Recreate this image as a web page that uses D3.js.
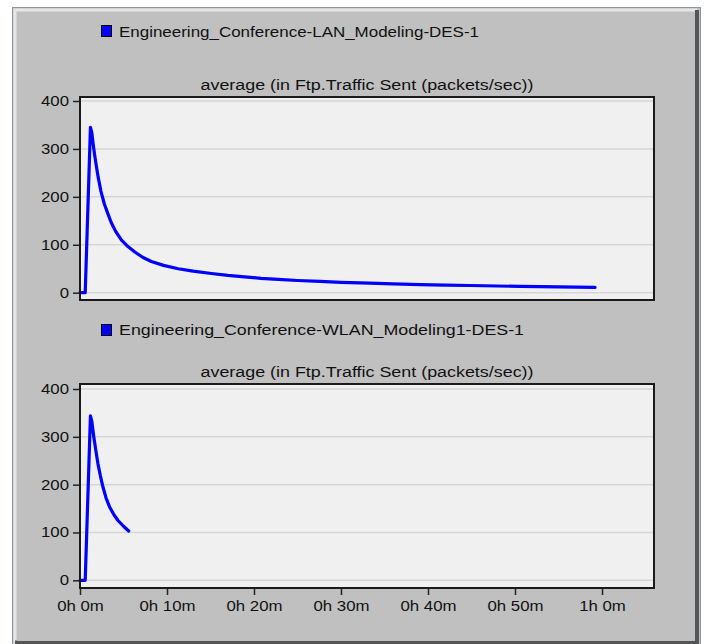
<!DOCTYPE html>
<html>
<head>
<meta charset="utf-8">
<script src="https://cdn.jsdelivr.net/npm/d3@7"></script>
<style>
  html, body { margin: 0; padding: 0; background: #ffffff; }
  svg { display: block; font-family: "Liberation Sans", Arial, sans-serif; }
</style>
</head>
<body>
<svg id="chart" width="707" height="644"></svg>
<script>
// ---- data (time in minutes, value in packets/sec) ----
const seriesNames = [
  "Engineering_Conference-LAN_Modeling-DES-1",
  "Engineering_Conference-WLAN_Modeling1-DES-1"
];
const panelTitle = "average (in Ftp.Traffic Sent (packets/sec))";
const lanTime  = [0, 0.6, 1.2, 1.35, 1.5, 1.7, 1.9, 2.1, 2.4, 2.8, 3.2, 3.6, 4.1, 4.75, 5.4, 6.3, 7.2, 8.2, 9.6, 11.3, 13, 15.1, 17, 18.9, 20.8, 22.8, 25, 27.6, 30, 33.3, 36, 39.1, 42, 44.8, 48, 50.6, 55, 59.2];
const lanValue = [0, 0, 345, 335, 312, 285, 262, 240, 212, 185, 165, 146, 128, 110, 98, 85, 74, 65, 57, 50, 45, 40, 36, 33, 30, 28, 25.5, 23.5, 21.5, 20, 18.5, 17, 16, 15, 14, 13, 12, 11];
const wlanTime  = [0, 0.6, 1.2, 1.35, 1.6, 1.85, 2.07, 2.35, 2.64, 3.0, 3.41, 3.9, 4.37, 5.0, 5.6];
const wlanValue = [0, 0, 344, 333, 298, 268, 243, 218, 195, 172, 153, 137, 125, 113, 103];
const yTicks = [0, 100, 200, 300, 400];
const xTicks = [0, 10, 20, 30, 40, 50, 60];
const xTickLabels = ["0h 0m", "0h 10m", "0h 20m", "0h 30m", "0h 40m", "0h 50m", "1h 0m"];

const svg = d3.select("#chart");

// ---- window frame ----
svg.append("rect").attr("x", 12.5).attr("y", 7.5).attr("width", 688).attr("height", 640)
  .attr("fill", "#c0c0c0").attr("stroke", "#8e96a0").attr("stroke-width", 1);
svg.append("path").attr("d", "M15,646 L15,10 L697,10").attr("fill", "none")
  .attr("stroke", "#e6e6e6").attr("stroke-width", 3);
svg.append("path").attr("d", "M697,10 L697,642.5 L15,642.5").attr("fill", "none")
  .attr("stroke", "#555555").attr("stroke-width", 4);
svg.append("rect").attr("x", 17).attr("y", 12).attr("width", 678).attr("height", 629)
  .attr("fill", "#c0c0c0");

const x = d3.scaleLinear().domain([0, 60]).range([80, 602]);

const panels = [
  { name: seriesNames[0], t: lanTime, v: lanValue, top: 97, bottom: 300, y0: 292.7, y400: 101,
    legendY: 25, textY: 36.5, titleY: 89.5, showX: false },
  { name: seriesNames[1], t: wlanTime, v: wlanValue, top: 384, bottom: 588, y0: 580.3, y400: 389,
    legendY: 324, textY: 335, titleY: 376.5, showX: true }
];
const legendWidths = [360, 405];

panels.forEach((p, i) => {
  const g = svg.append("g");
  const y = d3.scaleLinear().domain([0, 400]).range([p.y0, p.y400]);
  const left = 80, right = 654;

  // legend
  g.append("rect").attr("x", 101.5).attr("y", p.legendY + 0.5).attr("width", 10).attr("height", 11)
    .attr("fill", "#0000ff").attr("stroke", "#000").attr("stroke-width", 1);
  g.append("text").attr("x", 119).attr("y", p.textY).attr("font-size", 14).attr("fill", "#111")
    .attr("textLength", legendWidths[i]).attr("lengthAdjust", "spacingAndGlyphs").text(p.name);

  // title
  g.append("text").attr("x", (left + right) / 2).attr("y", p.titleY).attr("text-anchor", "middle")
    .attr("font-size", 14).attr("fill", "#111")
    .attr("textLength", 333).attr("lengthAdjust", "spacingAndGlyphs").text(panelTitle);

  // plot background
  g.append("rect").attr("x", left).attr("y", p.top).attr("width", right - left).attr("height", p.bottom - p.top)
    .attr("fill", "#f0f0f0");

  // gridlines
  g.append("g").selectAll("line").data(yTicks).join("line")
    .attr("x1", left + 1).attr("x2", right - 1)
    .attr("y1", d => y(d)).attr("y2", d => y(d))
    .attr("stroke", "#d6d6d6").attr("stroke-width", 1.5);

  // data line
  const line = d3.line().x(d => x(d[0])).y(d => y(d[1]));
  g.append("path").datum(p.t.map((t, k) => [t, p.v[k]]))
    .attr("d", line).attr("fill", "none").attr("stroke", "#0000ff")
    .attr("stroke-width", 3.2).attr("stroke-linejoin", "round").attr("stroke-linecap", "round");

  // border
  g.append("rect").attr("x", left).attr("y", p.top).attr("width", right - left).attr("height", p.bottom - p.top)
    .attr("fill", "none").attr("stroke", "#1a1a1a").attr("stroke-width", 2);

  // y axis
  const ya = g.append("g").attr("transform", `translate(${left - 1},0)`)
    .call(d3.axisLeft(y).tickValues(yTicks).tickSize(6).tickPadding(0).tickFormat(d3.format("d")));
  ya.select(".domain").remove();
  ya.selectAll(".tick line").attr("stroke", "#222").attr("stroke-width", 1.5);
  ya.selectAll(".tick text").attr("font-size", 14).attr("fill", "#111").attr("font-family", "Liberation Sans, Arial, sans-serif")
    .attr("x", -10 / 1.2).attr("transform", "scale(1.2,1)");

  if (p.showX) {
    const xa = g.append("g").attr("transform", `translate(0,${p.bottom + 1})`)
      .call(d3.axisBottom(x).tickValues(xTicks).tickSize(6).tickPadding(6.5)
        .tickFormat((d, k) => xTickLabels[k]));
    xa.select(".domain").remove();
    xa.selectAll(".tick line").attr("stroke", "#222").attr("stroke-width", 1.5);
    xa.selectAll(".tick text").attr("font-size", 14).attr("fill", "#111").attr("font-family", "Liberation Sans, Arial, sans-serif")
      .attr("transform", "scale(1.2,1)")
      .attr("x", 0);
  }
});
</script>
</body>
</html>
